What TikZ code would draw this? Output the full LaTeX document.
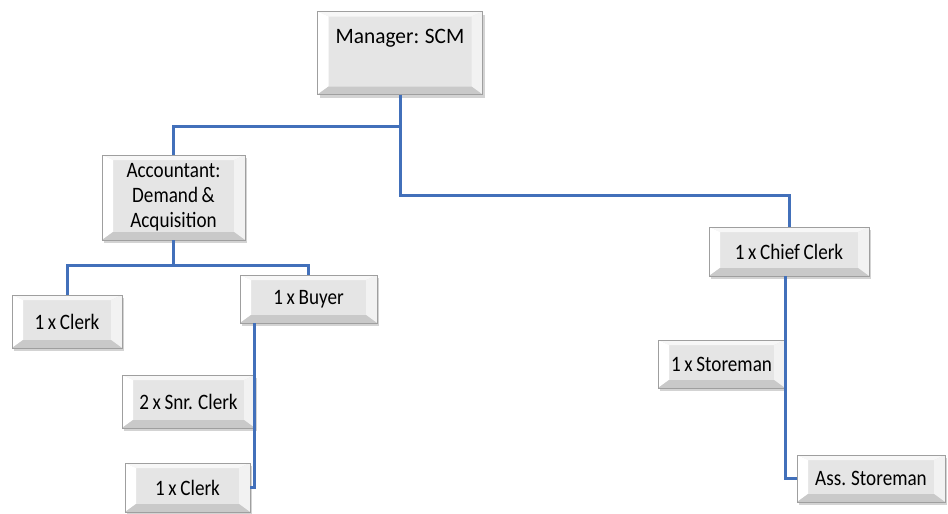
\documentclass[tikz,border=0pt]{standalone}
\usepackage{fontspec}
\setmainfont{Carlito}
\newfontfamily\boxfont[FakeStretch=0.87, WordSpace=0.85]{Carlito}
\newfontfamily\bossfont[FakeStretch=0.97, WordSpace=0.85]{Carlito}
\usepackage{tikz}
\usetikzlibrary{shadows}

\definecolor{linkblue}{RGB}{66,112,186}

\begin{document}
\begin{tikzpicture}[x=1pt, y=-1pt,
  box/.style={draw=gray!75, fill=gray!20, inner sep=2pt, align=center,
    font=\boxfont\fontsize{22}{25}\selectfont,
    drop shadow={opacity=0.35, shadow xshift=2pt, shadow yshift=-3pt},
    path picture={
      \path (path picture bounding box.south west) coordinate (bl)
            (path picture bounding box.north east) coordinate (tr)
            (path picture bounding box.north west) coordinate (tl)
            (path picture bounding box.south east) coordinate (br);
      \path ([shift={(11pt,-5pt)}]tl) coordinate (itl)
            ([shift={(-11pt,-5pt)}]tr) coordinate (itr)
            ([shift={(-11pt,8pt)}]br) coordinate (ibr)
            ([shift={(11pt,8pt)}]bl) coordinate (ibl);
      \fill[gray!6] (tl) -- (tr) -- (itr) -- (itl) -- cycle;
      \fill[white] (tl) -- (itl) -- (ibl) -- (bl) -- cycle;
      \fill[gray!10] (tr) -- (br) -- (ibr) -- (itr) -- cycle;
      \fill[gray!42] (bl) -- (ibl) -- (ibr) -- (br) -- cycle;
    }},
  link/.style={draw=linkblue, line width=3pt}]

\useasboundingbox (0,0) rectangle (948,514);

\node[box, minimum width=165pt, minimum height=83pt, font=\bossfont\fontsize{22}{25}\selectfont,
  text height=15pt, text depth=34pt] (mgr) at (400,53) {Manager: SCM};
\node[box, minimum width=143pt, minimum height=85pt] (acc) at (173.5,197.5) {Accountant:\\Demand \&\\Acquisition};
\node[box, minimum width=110pt, minimum height=53pt] (clerkA) at (67,321.5) {1 x Clerk};
\node[box, minimum width=137pt, minimum height=48pt] (buyer) at (308.5,299) {1 x Buyer};
\node[box, minimum width=133pt, minimum height=53pt] (snr) at (188.5,401.5) {2 x Snr. Clerk};
\node[box, minimum width=125pt, minimum height=49pt] (clerkB) at (187.5,487.5) {1 x Clerk};
\node[box, minimum width=160pt, minimum height=49pt] (chief) at (789,251.5) {1 x Chief Clerk};
\node[box, minimum width=127pt, minimum height=48pt] (store) at (721.5,364) {1 x Storeman};
\node[box, minimum width=148pt, minimum height=47pt] (ass) at (871,478.5) {Ass. Storeman};

\draw[link] (mgr.south) -- ++(0,32) -| (acc.north);
\draw[link] (mgr.south) -- ++(0,101) -| (chief.north);

\draw[link] (acc.south) -- ++(0,25) -| (clerkA.north);
\draw[link] (acc.south) -- ++(0,25) -| (buyer.north);

\draw[link] ([xshift=15pt]buyer.south west) |- (snr.east);
\draw[link] ([xshift=15pt]buyer.south west) |- (clerkB.east);

\draw[link] ([xshift=-4pt]chief.south) |- (store.east);
\draw[link] ([xshift=-4pt]chief.south) |- (ass.west);
\end{tikzpicture}
\end{document}
